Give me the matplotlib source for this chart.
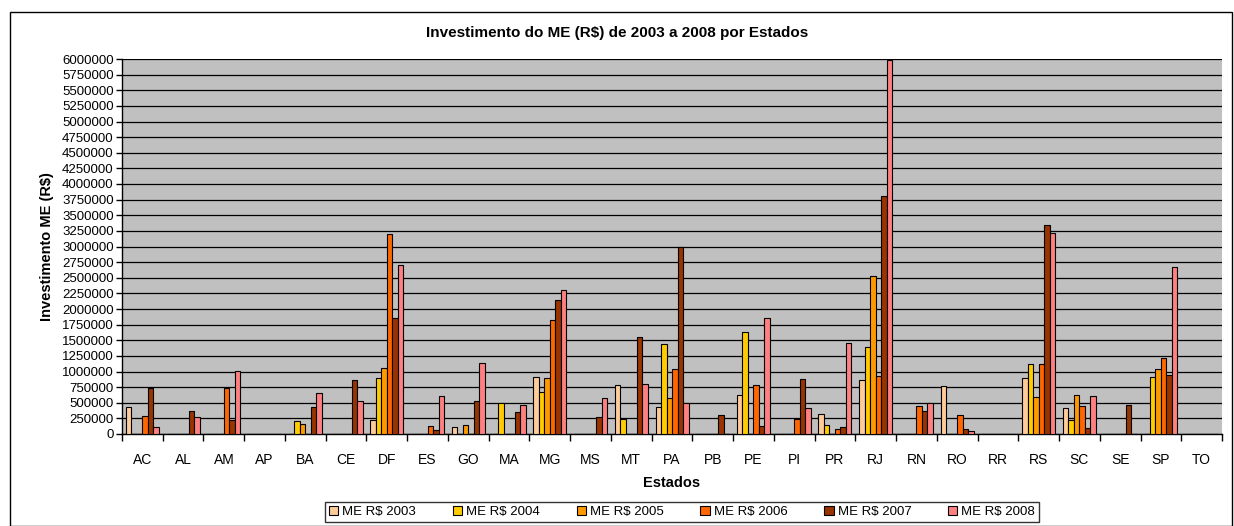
import matplotlib
matplotlib.use("Agg")
import matplotlib.pyplot as plt
import numpy as np
from matplotlib.patches import Rectangle

plt.rcParams['font.family'] = ['Liberation Sans', 'DejaVu Sans']

estados = ["AC", "AL", "AM", "AP", "BA", "CE", "DF", "ES", "GO", "MA", "MG", "MS", "MT", "PA",
           "PB", "PE", "PI", "PR", "RJ", "RN", "RO", "RR", "RS", "SC", "SE", "SP", "TO"]

me_2003 = [436000, 0, 0, 0, 0, 0, 218000, 0, 117000, 0, 915000, 0, 782000, 426000,
           0, 628000, 0, 324000, 867000, 0, 761000, 0, 899000, 420000, 0, 0, 0]
me_2004 = [0, 0, 0, 0, 202000, 0, 899000, 0, 0, 495000, 665000, 0, 239000, 1446000,
           0, 1630000, 0, 149000, 1388000, 0, 0, 0, 1122000, 218000, 0, 915000, 0]
me_2005 = [0, 0, 0, 0, 154000, 0, 1053000, 0, 149000, 0, 899000, 0, 0, 580000,
           0, 0, 0, 0, 2530000, 0, 0, 0, 596000, 628000, 0, 1048000, 0]
me_2006 = [287000, 0, 729000, 0, 0, 0, 3195000, 133000, 0, 0, 1830000, 0, 0, 1048000,
           0, 782000, 239000, 85000, 936000, 441000, 309000, 0, 1122000, 441000, 0, 1223000, 0]
me_2007 = [730000, 372000, 218000, 0, 426000, 867000, 1850000, 69000, 527000, 346000, 2140000, 277000, 1560000, 2990000,
           303000, 133000, 883000, 117000, 3816000, 372000, 74000, 0, 3350000, 101000, 457000, 952000, 0]
me_2008 = [117000, 271000, 1016000, 0, 660000, 527000, 2700000, 612000, 1138000, 457000, 2300000, 580000, 803000, 495000,
           0, 1856000, 420000, 1460000, 5990000, 495000, 43000, 0, 3220000, 612000, 0, 2680000, 0]

series = [("ME R$ 2003", me_2003, "#FFCC99"),
          ("ME R$ 2004", me_2004, "#FFCC00"),
          ("ME R$ 2005", me_2005, "#FF9900"),
          ("ME R$ 2006", me_2006, "#FF6600"),
          ("ME R$ 2007", me_2007, "#993300"),
          ("ME R$ 2008", me_2008, "#FF8080")]

W, H = 1234, 526
fig = plt.figure(figsize=(W / 100, H / 100), dpi=100)
ax = fig.add_axes([122 / W, 1 - 434 / H, (1222 - 122) / W, (434 - 59) / H])
ax.set_facecolor("#C0C0C0")

# figure border
fig.patches.append(Rectangle((10 / W, 0.0 / H), (1232 - 10) / W, (514) / H, transform=fig.transFigure,
                             fill=False, edgecolor="black", linewidth=1.0))

x = np.arange(len(estados))
bw = 0.135
for i, (lab, vals, col) in enumerate(series):
    ax.bar(x + (i - 2.5) * bw, vals, width=bw, color=col, edgecolor="black", linewidth=0.8,
           label=lab, zorder=3)

ax.set_xlim(-0.5, len(estados) - 0.5)
ax.set_ylim(0, 6000000)
ax.set_yticks(np.arange(0, 6000001, 250000))
ax.set_yticklabels([str(v) for v in range(0, 6000001, 250000)], fontsize=9.5)
ax.yaxis.grid(True, color="black", linewidth=0.9, zorder=1)
ax.set_axisbelow(True)

ax.set_xticks(x)
ax.set_xticklabels(estados, fontsize=10)
ax.tick_params(axis="x", length=0, pad=14)
ax.set_xticks(np.arange(-0.5, len(estados), 1), minor=True)
ax.tick_params(axis="x", which="minor", length=5, width=1, direction="out")
ax.tick_params(axis="y", length=4, width=1, direction="out", pad=2)

for s in ["top", "right"]:
    ax.spines[s].set_visible(False)
ax.spines["left"].set_linewidth(1)
ax.spines["bottom"].set_linewidth(1)

ax.set_xlabel("Estados", fontsize=10.5, fontweight="bold", labelpad=6)
ax.set_ylabel("Investimento ME (R$)", fontsize=10.5, fontweight="bold", labelpad=6)
fig.text(0.5, 1 - 33 / H, "Investimento do ME (R$) de 2003 a 2008 por Estados", ha="center", va="center",
         fontsize=11, fontweight="bold")

leg = fig.legend(loc="center", bbox_to_anchor=(682 / W, 1 - 512 / H), ncol=6, fontsize=9.5,
                 frameon=True, fancybox=False, edgecolor="black", handlelength=0.7, handleheight=0.7,
                 handletextpad=0.3, columnspacing=2.8, borderpad=0.3)
leg.get_frame().set_linewidth(1)

fig.savefig("out.png", dpi=100, facecolor="white")
